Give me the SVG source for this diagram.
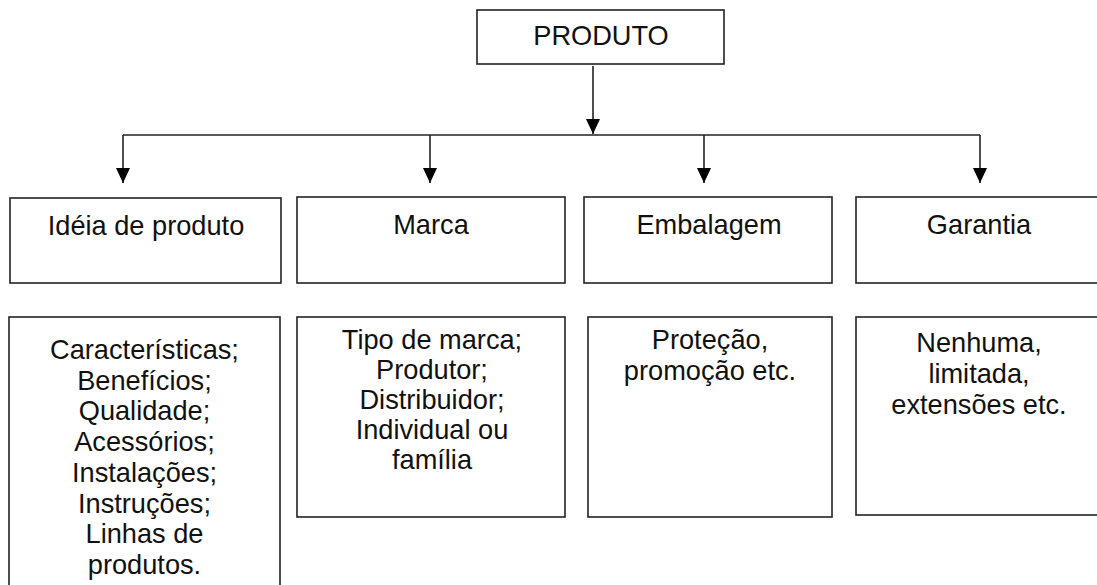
<svg xmlns="http://www.w3.org/2000/svg" width="1097" height="585" viewBox="0 0 1097 585">
  <style>
    .box { fill: #fff; stroke: #222; stroke-width: 1.6; }
    .t { font-family: "Liberation Sans", Arial, sans-serif; font-size: 27.2px; fill: #111; text-anchor: middle; }
    .c { fill: none; stroke: #222; stroke-width: 1.6; }
  </style>
  <defs>
    <marker id="ah" markerUnits="userSpaceOnUse" markerWidth="16" markerHeight="17" refX="15" refY="7" orient="auto" viewBox="0 0 16 14">
      <path d="M0,0 L15,7 L0,14 Z" fill="#000"/>
    </marker>
  </defs>
  <rect width="1097" height="585" fill="#fff"/>

  <g id="connectors">
    <line class="c" x1="593" y1="66" x2="593" y2="134" marker-end="url(#ah)"/>
    <line class="c" x1="123" y1="135" x2="980" y2="135"/>
    <line class="c" x1="123" y1="135" x2="123" y2="183" marker-end="url(#ah)"/>
    <line class="c" x1="430" y1="135" x2="430" y2="183" marker-end="url(#ah)"/>
    <line class="c" x1="704" y1="135" x2="704" y2="183" marker-end="url(#ah)"/>
    <line class="c" x1="980" y1="135" x2="980" y2="183" marker-end="url(#ah)"/>
  </g>

  <g id="produto">
    <rect class="box" x="477" y="10" width="247" height="54"/>
    <text class="t" x="601" y="45">PRODUTO</text>
  </g>

  <g id="ideia">
    <rect class="box" x="10" y="198" width="271" height="85"/>
    <text class="t" x="146" y="235">Idéia de produto</text>
  </g>
  <g id="marca">
    <rect class="box" x="297" y="197" width="268" height="86"/>
    <text class="t" x="431" y="234">Marca</text>
  </g>
  <g id="embalagem">
    <rect class="box" x="584" y="197" width="248" height="86"/>
    <text class="t" x="709" y="234">Embalagem</text>
  </g>
  <g id="garantia">
    <rect class="box" x="856" y="197" width="250" height="86"/>
    <text class="t" x="979" y="234">Garantia</text>
  </g>

  <g id="ideia-detalhes">
    <rect class="box" x="9" y="317" width="271" height="280"/>
    <text class="t" x="144.5" y="359">Características;</text>
    <text class="t" x="144.5" y="389.7">Benefícios;</text>
    <text class="t" x="144.5" y="420.4">Qualidade;</text>
    <text class="t" x="144.5" y="451.1">Acessórios;</text>
    <text class="t" x="144.5" y="481.8">Instalações;</text>
    <text class="t" x="144.5" y="512.5">Instruções;</text>
    <text class="t" x="144.5" y="543.2">Linhas de</text>
    <text class="t" x="144.5" y="573.9">produtos.</text>
  </g>
  <g id="marca-detalhes">
    <rect class="box" x="297" y="317" width="268" height="200"/>
    <text class="t" x="432" y="349">Tipo de marca;</text>
    <text class="t" x="432" y="379">Produtor;</text>
    <text class="t" x="432" y="409">Distribuidor;</text>
    <text class="t" x="432" y="439">Individual ou</text>
    <text class="t" x="432" y="469">família</text>
  </g>
  <g id="embalagem-detalhes">
    <rect class="box" x="588" y="317" width="244" height="200"/>
    <text class="t" x="710" y="349">Proteção,</text>
    <text class="t" x="710" y="380">promoção etc.</text>
  </g>
  <g id="garantia-detalhes">
    <rect class="box" x="856" y="317" width="250" height="198"/>
    <text class="t" x="979" y="352">Nenhuma,</text>
    <text class="t" x="979" y="383">limitada,</text>
    <text class="t" x="979" y="414">extensões etc.</text>
  </g>
</svg>
